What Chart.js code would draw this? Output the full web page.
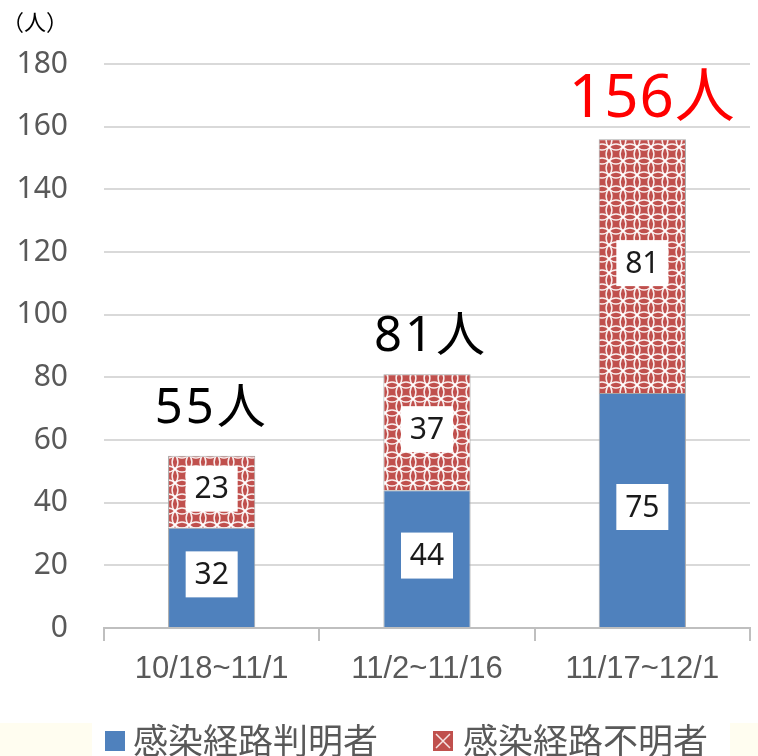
<!DOCTYPE html>
<html>
<head>
<meta charset="utf-8">
<script src="https://cdn.jsdelivr.net/npm/chart.js@4"></script>
<style>
  html, body { margin: 0; padding: 0; background: #fff; }
  #wrap { width: 758px; height: 756px; }
</style>
</head>
<body>
<div id="wrap"><canvas id="stage" width="758" height="756"></canvas></div>
<script>
// データ
var periods = ['10/18~11/1', '11/2~11/16', '11/17~12/1'];
var knownRoute = [32, 44, 75];      // 感染経路判明者
var unknownRoute = [23, 37, 81];    // 感染経路不明者
var totalLabels = ['55人', '81人', '156人'];
var totalColors = ['#000000', '#000000', '#ff0000'];
var yTicks = [0, 20, 40, 60, 80, 100, 120, 140, 160, 180];
var seriesNames = ['感染経路判明者', '感染経路不明者'];

var JP = '"Noto Sans CJK JP", "Noto Sans", sans-serif';
var NUM = '"Noto Sans", "Noto Sans CJK JP", sans-serif';

// 不明者用の格子模様
function makePattern() {
    const t = 14;
    const c = document.createElement('canvas');
    c.width = t; c.height = t;
    const g = c.getContext('2d');
    g.fillStyle = '#c0504d';
    g.fillRect(0, 0, t, t);
    g.strokeStyle = 'rgba(255,255,255,0.9)';
    g.lineWidth = 1.5;
    const r = t / Math.SQRT2;
    [[0, 0], [t, 0], [0, t], [t, t]].forEach(function(p) {
        g.beginPath();
        g.arc(p[0], p[1], r, 0, Math.PI * 2);
        g.stroke();
    });
    return document.getElementById('stage').getContext('2d').createPattern(c, 'repeat');
}
const redPattern = makePattern();

// 合計ラベルの見た目 (フォント、字間、棒上端からの距離、横ずれ)
const totalStyle = [
    { size: 49, spacing: 3, gap: 33, dx: 0 },
    { size: 49, spacing: 3, gap: 23, dx: 4 },
    { size: 60, spacing: 1, gap: 22, dx: 10 }
];

// ラベル・凡例などを描く
const overlayPlugin = {
    id: 'overlay',
    beforeDraw(chart) {
        const ctx = chart.ctx;
        ctx.save();
        ctx.fillStyle = '#fffdf0';
        ctx.fillRect(0, 723, 92, 33);
        ctx.fillRect(730, 723, 28, 33);
        ctx.restore();
    },
    afterDatasetsDraw(chart) {
        const ctx = chart.ctx;
        ctx.save();
        // 各区分の数値
        chart.data.datasets.forEach(function(ds, i) {
            const meta = chart.getDatasetMeta(i);
            meta.data.forEach(function(bar, j) {
                const cy = (bar.y + bar.base) / 2 - 3;
                ctx.fillStyle = '#ffffff';
                ctx.fillRect(bar.x - 26, cy - 23, 52, 46);
                ctx.fillStyle = '#1a1a1a';
                ctx.font = '30px ' + NUM;
                ctx.textAlign = 'center';
                ctx.textBaseline = 'middle';
                ctx.fillText(ds.data[j], bar.x, cy + 1);
            });
        });
        // 合計
        const top = chart.getDatasetMeta(chart.data.datasets.length - 1);
        top.data.forEach(function(bar, j) {
            const st = totalStyle[j];
            ctx.fillStyle = totalColors[j];
            ctx.font = st.size + 'px ' + NUM;
            ctx.letterSpacing = st.spacing + 'px';
            ctx.textAlign = 'center';
            ctx.textBaseline = 'alphabetic';
            ctx.fillText(totalLabels[j], bar.x + st.dx, bar.y - st.gap);
        });
        ctx.letterSpacing = '0px';
        // 単位
        ctx.fillStyle = '#000';
        ctx.font = '22px ' + JP;
        ctx.textAlign = 'left';
        ctx.textBaseline = 'middle';
        ctx.fillText('（人）', 2, 22);
        // 凡例
        ctx.font = '35px ' + JP;
        ctx.fillStyle = '#4f81bd';
        ctx.fillRect(105, 731, 20, 20);
        ctx.fillStyle = '#595959';
        ctx.fillText(seriesNames[0], 133, 741);
        ctx.fillStyle = '#c0504d';
        ctx.fillRect(433, 731, 20, 20);
        ctx.strokeStyle = 'rgba(255,255,255,0.85)';
        ctx.lineWidth = 1.5;
        ctx.beginPath();
        ctx.moveTo(436, 734); ctx.lineTo(450, 748);
        ctx.moveTo(450, 734); ctx.lineTo(436, 748);
        ctx.stroke();
        ctx.fillStyle = '#595959';
        ctx.fillText(seriesNames[1], 463, 741);
        ctx.restore();
    }
};

chart = new Chart(document.getElementById('stage'), {
    type: 'bar',
    data: {
        labels: periods,
        datasets: [
            {
                label: seriesNames[0],
                data: knownRoute,
                backgroundColor: '#4f81bd',
                borderColor: '#a6a6a6',
                borderWidth: 1,
                barPercentage: 0.81,
                categoryPercentage: 0.5
            },
            {
                label: seriesNames[1],
                data: unknownRoute,
                backgroundColor: redPattern,
                borderColor: '#a6a6a6',
                borderWidth: 1,
                barPercentage: 0.81,
                categoryPercentage: 0.5
            }
        ]
    },
    options: {
        responsive: false,
        animation: false,
        layout: { padding: { top: 64, right: 8, bottom: 38, left: 0 } },
        plugins: {
            legend: { display: false },
            tooltip: { enabled: false }
        },
        scales: {
            x: {
                stacked: true,
                afterFit: function(s) { s.height = 90; },
                grid: {
                    offset: true,
                    drawOnChartArea: false,
                    drawTicks: true,
                    tickLength: 13,
                    color: '#bfbfbf',
                    lineWidth: 2
                },
                border: { color: '#bfbfbf', width: 2 },
                ticks: {
                    color: '#595959',
                    font: { family: '"Liberation Sans", Arial, sans-serif', size: 31 },
                    padding: 10
                }
            },
            y: {
                stacked: true,
                min: 0,
                max: 180,
                afterFit: function(s) { s.width = 104; },
                afterBuildTicks: function(s) {
                    s.ticks = yTicks.map(function(v) { return { value: v }; });
                },
                grid: {
                    color: '#d9d9d9',
                    lineWidth: 2,
                    drawTicks: false
                },
                border: { display: false },
                ticks: {
                    color: '#595959',
                    font: { family: NUM, size: 30 },
                    padding: 36
                }
            }
        }
    },
    plugins: [overlayPlugin]
});
</script>
</body>
</html>
